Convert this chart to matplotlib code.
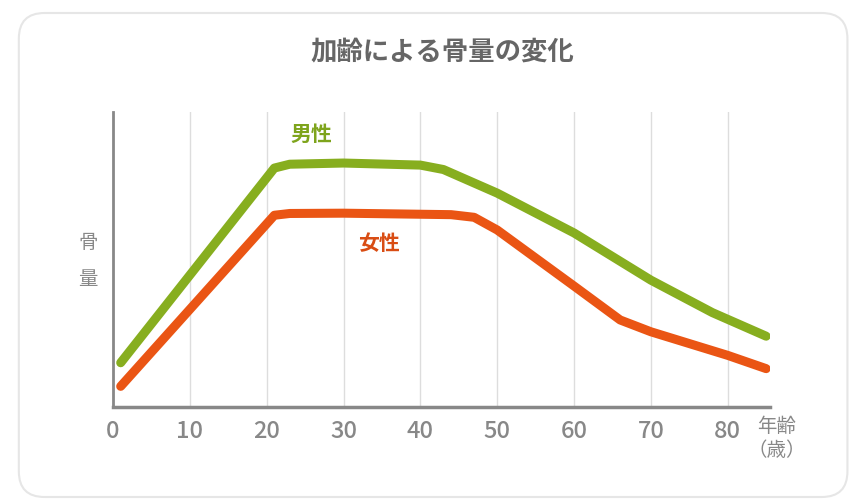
import matplotlib
matplotlib.use("Agg")
import matplotlib.pyplot as plt
from matplotlib.patches import FancyBboxPatch

plt.rcParams['font.family'] = ['Noto Sans CJK JP', 'DejaVu Sans']

# bone mass (relative) by age
male_age = [1, 21, 23, 30, 40, 43, 50, 60, 70, 78, 85]
male_val = [15, 81, 82.3, 82.7, 82.0, 80.5, 72.5, 59, 43, 32, 24]
female_age = [1, 21, 23, 30, 44, 47, 50, 60, 66, 70, 80, 85]
female_val = [7, 65, 65.6, 65.7, 65.2, 64.3, 60, 41, 29.5, 25.5, 17.5, 13]
xticks = [0, 10, 20, 30, 40, 50, 60, 70, 80]

green = '#87ae1f'
orange = '#ea5514'
gray = '#888888'

fig = plt.figure(figsize=(8.56, 5), dpi=100)

# card background
card = FancyBboxPatch((0.022, 0.006), 0.968, 0.968, boxstyle="round,pad=0,rounding_size=0.03",
                      transform=fig.transFigure, facecolor='white', edgecolor='#e6e6e6',
                      linewidth=1.5, zorder=-5, mutation_aspect=856 / 500)
fig.patches.append(card)

ax = fig.add_axes([113 / 856, 1 - 407 / 500, 657 / 856, 295 / 500])
ax.set_facecolor('none')
ax.set_zorder(2)

ax.plot(male_age, male_val, color=green, linewidth=6.5, solid_capstyle='round',
        solid_joinstyle='round', zorder=3)
ax.plot(female_age, female_val, color=orange, linewidth=6.5, solid_capstyle='round',
        solid_joinstyle='round', zorder=3)

ax.set_xlim(0, 85.5)
ax.set_ylim(0, 100)
ax.set_xticks(xticks)
ax.set_yticks([])
for x in xticks[1:]:
    ax.axvline(x, color='#dddddd', linewidth=1, zorder=1)

for s in ['top', 'right']:
    ax.spines[s].set_visible(False)
ax.spines['left'].set_color(gray)
ax.spines['left'].set_linewidth(2)
ax.spines['bottom'].set_color(gray)
ax.spines['bottom'].set_linewidth(2.5)
ax.tick_params(axis='x', length=0, pad=9, labelsize=17, labelcolor=gray)
for lbl in ax.get_xticklabels():
    lbl.set_fontweight('medium')

ax.text(25.8, 92.5, '男性', color='#7ea41c', fontsize=15, fontweight='bold', ha='center', va='center')
ax.text(34.6, 55.5, '女性', color='#d94d14', fontsize=15, fontweight='bold', ha='center', va='center')

fig.text(777 / 856, 1 - 426 / 500, '年齢', color=gray, fontsize=14, ha='center', va='center')
fig.text(777 / 856, 1 - 451 / 500, '（歳）', color=gray, fontsize=14, ha='center', va='center')
fig.text(88 / 856, 1 - 242 / 500, '骨', color=gray, fontsize=14, ha='center', va='center')
fig.text(88 / 856, 1 - 280 / 500, '量', color=gray, fontsize=14, ha='center', va='center')

fig.text(442 / 856, 1 - 52 / 500, '加齢による骨量の変化', color='#666666', fontsize=19,
         fontweight='bold', ha='center', va='center')

fig.savefig('out.png', dpi=100)
